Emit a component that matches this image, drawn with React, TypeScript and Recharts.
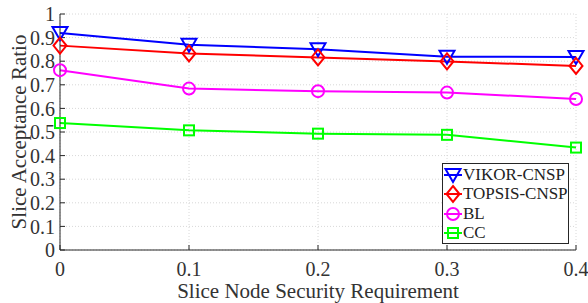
import { LineChart, Line, XAxis, YAxis, CartesianGrid } from "recharts";

const xValues = [0, 0.1, 0.2, 0.3, 0.4];
const vikor = [0.919, 0.87, 0.851, 0.819, 0.818];
const topsis = [0.866, 0.833, 0.816, 0.799, 0.78];
const bl = [0.762, 0.684, 0.673, 0.667, 0.64];
const cc = [0.538, 0.507, 0.493, 0.488, 0.434];
const xTicks = [0, 0.1, 0.2, 0.3, 0.4];
const yTicks = [0, 0.1, 0.2, 0.3, 0.4, 0.5, 0.6, 0.7, 0.8, 0.9, 1];

const data = xValues.map((x, i) => ({ x, vikor: vikor[i], topsis: topsis[i], bl: bl[i], cc: cc[i] }));

const series = [
  { key: "vikor", name: "VIKOR-CNSP", color: "#0000ff", shape: "tri" },
  { key: "topsis", name: "TOPSIS-CNSP", color: "#ff0000", shape: "diamond" },
  { key: "bl", name: "BL", color: "#ff00ff", shape: "circle" },
  { key: "cc", name: "CC", color: "#00ff00", shape: "square" },
];

const FONT = "'Liberation Serif', 'Times New Roman', serif";
const AXIS = "#262626";
const TEXT = "#333";

function Marker({ shape, color, cx, cy }: { shape: string; color: string; cx: number; cy: number }) {
  const p = { fill: "none", stroke: color, strokeWidth: 2 };
  if (shape === "tri") return <path d={`M${cx - 7.5},${cy - 6} L${cx + 7.5},${cy - 6} L${cx},${cy + 7} Z`} {...p} />;
  if (shape === "diamond") return <path d={`M${cx},${cy - 8} L${cx + 6.5},${cy} L${cx},${cy + 8} L${cx - 6.5},${cy} Z`} {...p} />;
  if (shape === "circle") return <circle cx={cx} cy={cy} r={6} {...p} />;
  return <rect x={cx - 5} y={cy - 5} width={10} height={10} {...p} />;
}

function LegendBox() {
  return (
    <div style={{ position: "absolute", left: 442, top: 163, width: 127, height: 81, boxSizing: "border-box", border: `1px solid ${AXIS}`, background: "#fff", padding: "1px 0", fontFamily: FONT, fontSize: 17, color: "#222", whiteSpace: "nowrap" }}>
      {series.map((s) => (
        <div key={s.key} style={{ display: "flex", alignItems: "center", height: 19.5 }}>
          <svg width={20} height={20} style={{ flex: "none" }}>
            <line x1={1} y1={10} x2={19} y2={10} stroke={s.color} strokeWidth={2} />
            <Marker shape={s.shape} color={s.color} cx={10} cy={10} />
          </svg>
          <span>{s.name}</span>
        </div>
      ))}
    </div>
  );
}

export default function App() {
  return (
    <div style={{ position: "absolute", left: 0, top: 0, width: 588, height: 303, background: "#fff" }}>
      <LineChart width={588} height={303} data={data} margin={{ top: 14, right: 12, left: 0, bottom: 0 }}>
        <CartesianGrid stroke="#d8d8d8" strokeDasharray="1 2" horizontal vertical />
        <XAxis
          dataKey="x" type="number" domain={[0, 0.4]} ticks={xTicks} height={53} interval={0}
          tickFormatter={(v: number) => (v === 0 ? "0" : v.toFixed(1))}
          stroke={AXIS} tickSize={-5} tickMargin={17}
          tick={{ fill: TEXT, fontSize: 20, fontFamily: FONT }}
          label={{ value: "Slice Node Security Requirement", position: "insideBottom", offset: 5, fill: TEXT, fontSize: 21, fontFamily: FONT }}
        />
        <XAxis xAxisId="top" dataKey="x" type="number" domain={[0, 0.4]} ticks={xTicks} interval={0} orientation="top" mirror height={0} stroke={AXIS} tickSize={5} tick={() => <g />} />
        <YAxis
          type="number" domain={[0, 1]} ticks={yTicks} width={60} interval={0}
          tickFormatter={(v: number) => (v === 0 || v === 1 ? String(v) : v.toFixed(1))}
          stroke={AXIS} tickSize={-5} tickMargin={10}
          tick={{ fill: TEXT, fontSize: 20, fontFamily: FONT }}
          label={{ value: "Slice Acceptance Ratio", angle: -90, position: "insideLeft", offset: 19, style: { textAnchor: "middle" }, fill: TEXT, fontSize: 21, fontFamily: FONT }}
        />
        <YAxis yAxisId="right" type="number" domain={[0, 1]} ticks={yTicks} interval={0} orientation="right" mirror width={0} stroke={AXIS} tickSize={5} tick={() => <g />} />
        {series.map((s) => (
          <Line
            key={s.key} dataKey={s.key} name={s.name} stroke={s.color} strokeWidth={2}
            isAnimationActive={false}
            dot={(props: any) => <Marker key={`${s.key}-${props.index}`} shape={s.shape} color={s.color} cx={props.cx} cy={props.cy} />}
            activeDot={false}
          />
        ))}
      </LineChart>
      <LegendBox />
    </div>
  );
}
